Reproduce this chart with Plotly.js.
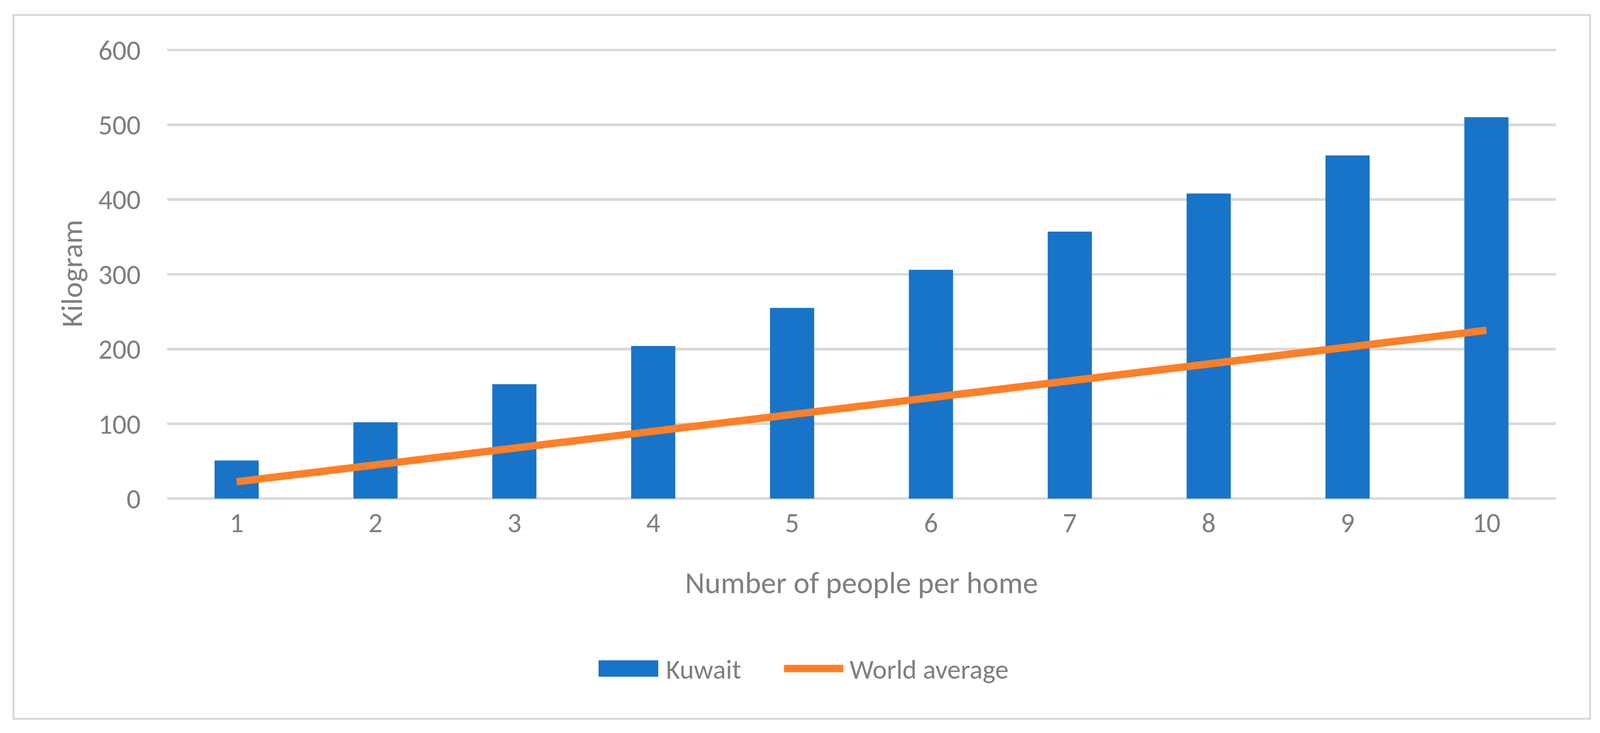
<!DOCTYPE html>
<html>
<head>
<meta charset="utf-8">
<script src="https://cdn.plot.ly/plotly-3.0.1.min.js"></script>
<style>
  html, body { margin: 0; padding: 0; background: #fff; overflow: hidden; }
  #frame { position: absolute; box-sizing: border-box; border-style: solid; border-color: #d9d9d9; }
  #plotDiv { position: absolute; left: 0; top: 0; }
</style>
</head>
<body>
<div id="frame"></div>
<div id="plotDiv"></div>
<script>
/* =========================
   Data
========================= */

const people = ['1', '2', '3', '4', '5', '6', '7', '8', '9', '10'];
const kuwait = [51, 102, 153, 204, 255, 306, 357, 408, 459, 510];
const worldAverage = [22.5, 45, 67.5, 90, 112.5, 135, 157.5, 180, 202.5, 225];

const seriesNames = ['Kuwait', 'World average'];
const yTicks = [0, 100, 200, 300, 400, 500, 600];

/* =========================
   Layout helpers
   (numbers below are in reference pixels, 4314 x 1876,
   then scaled to whatever the viewport really is)
========================= */

const REF_W = 4314, REF_H = 1876;
const W = window.innerWidth || REF_W;
const H = window.innerHeight || REF_H;
const sx = W / REF_W, sy = H / REF_H, s = Math.min(sx, sy);

const Y_MAX = 602;                 // a hair above 600 so the top grid line shows
const PLOT = { l: 451, r: 4195, top600: 128, zero: 1276 };
const plotTop = PLOT.zero - (PLOT.zero - PLOT.top600) * Y_MAX / 600;
const M = {
    l: PLOT.l * sx,
    r: (REF_W - PLOT.r) * sx,
    t: plotTop * sy,
    b: (REF_H - PLOT.zero) * sy,
    pad: 0
};

const BLUE = '#1874c8';
const ORANGE = '#ff7f27';
const GREY = '#7f7f7f';
const GRID = '#d9d9d9';
const FONT = 'Calibri, Carlito, Lato, sans-serif';

// reference pixel -> paper coords, for the hand-made legend
const px = x => (x - PLOT.l) / (PLOT.r - PLOT.l);
const py = y => (PLOT.zero - y) / (PLOT.zero - plotTop);

function legendBits() {
    const yMid = 1711;
    const shapes = [
        {
            type: 'rect', xref: 'paper', yref: 'paper',
            x0: px(1614), x1: px(1775), y0: py(1690), y1: py(1732),
            fillcolor: BLUE, line: { width: 0 }
        },
        {
            type: 'line', xref: 'paper', yref: 'paper',
            x0: px(2114), x1: px(2274), y0: py(yMid), y1: py(yMid),
            line: { color: ORANGE, width: 20 * s }
        }
    ];
    const annotations = [
        { x: px(1794), text: seriesNames[0] },
        { x: px(2289), text: seriesNames[1] }
    ].map(a => ({
        ...a,
        xref: 'paper', yref: 'paper', y: py(yMid + 2),
        xanchor: 'left', yanchor: 'middle', showarrow: false,
        font: { family: FONT, size: 73 * s, color: GREY }
    }));
    return { shapes, annotations };
}

// outer chart border
const frame = document.getElementById('frame');
frame.style.left = (34 * sx) + 'px';
frame.style.top = (36 * sy) + 'px';
frame.style.width = ((4290 - 34) * sx) + 'px';
frame.style.height = ((1842 - 36) * sy) + 'px';
frame.style.borderWidth = Math.max(1, 6 * s) + 'px';

/* =========================
   Chart plotting
========================= */

const data = [
    {
        type: 'bar',
        name: seriesNames[0],
        x: people,
        y: kuwait,
        marker: { color: BLUE, line: { width: 0 } },
        hoverinfo: 'skip'
    },
    {
        type: 'scatter',
        mode: 'lines',
        name: seriesNames[1],
        x: people,
        y: worldAverage,
        line: { color: ORANGE, width: 20 * s },
        hoverinfo: 'skip'
    }
];

const legend = legendBits();

const layout = {
    width: W,
    height: H,
    margin: M,
    paper_bgcolor: 'rgba(0,0,0,0)',
    plot_bgcolor: 'rgba(0,0,0,0)',
    font: { family: FONT, size: 75 * s, color: GREY },
    showlegend: false,
    bargap: 0.682,
    xaxis: {
        type: 'category',
        range: [-0.5, 9.5],
        showgrid: false,
        showline: false,
        ticks: '',
        ticklabelstandoff: Math.round(14 * sy),   // must be an integer
        tickfont: { family: FONT, size: 75 * s, color: GREY },
        title: {
            text: 'Number of people per home',
            font: { family: FONT, size: 82 * s, color: GREY },
            standoff: 83 * sy
        }
    },
    yaxis: {
        range: [0, Y_MAX],
        tickvals: yTicks,
        showline: false,
        ticks: '',
        gridcolor: GRID,
        gridwidth: 7 * s,
        zeroline: true,
        zerolinecolor: GRID,
        zerolinewidth: 7 * s,
        ticklabelstandoff: Math.round(71 * sx),   // must be an integer
        tickfont: { family: FONT, size: 75 * s, color: GREY },
        title: {
            text: 'Kilogram',
            font: { family: FONT, size: 81 * s, color: GREY },
            standoff: 16 * sx
        }
    },
    shapes: legend.shapes,
    annotations: legend.annotations
};

Plotly.newPlot('plotDiv', data, layout, { displayModeBar: false, staticPlot: true });
</script>
</body>
</html>
